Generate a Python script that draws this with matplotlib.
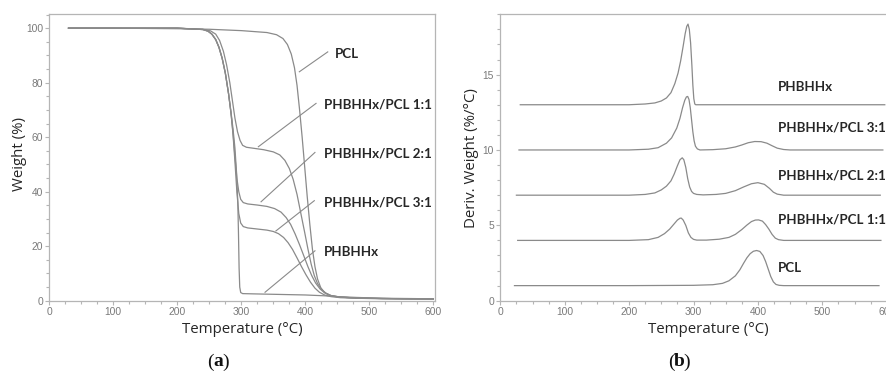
import matplotlib
matplotlib.use("Agg")
import matplotlib.pyplot as plt
from matplotlib.ticker import MultipleLocator

# ---------------- data (a) TGA weight (%) ----------------
tga_pcl_T = [30, 100, 200, 250, 300, 340, 355, 365, 372, 378, 383, 387, 391, 395, 399, 403, 407, 411, 415, 419, 424, 430, 438, 450, 470, 500, 550, 600]
tga_pcl_W = [100, 100, 99.8, 99.6, 99.1, 98.4, 97.6, 96.2, 94, 90.5, 85.5, 79, 70, 60, 49, 38, 28, 19, 12.5, 8, 4.8, 3, 1.9, 1.4, 1.1, 0.9, 0.7, 0.6]

tga_11_T = [30, 100, 200, 240, 252, 260, 266, 272, 277, 282, 286, 290, 294, 298, 302, 308, 320, 335, 350, 360, 368, 375, 381, 387, 393, 399, 404, 409, 414, 419, 425, 432, 440, 455, 480, 520, 600]
tga_11_W = [100, 100, 100, 99.6, 99, 97.8, 95.5, 91.5, 86.5, 80, 73.5, 67, 62, 58.8, 57, 56.3, 55.9, 55.4, 54.6, 53.5, 51.5, 48.5, 44.5, 39, 32, 25, 19, 13.5, 9.2, 6.3, 4.2, 2.8, 1.9, 1.3, 1.0, 0.8, 0.6]

tga_21_T = [30, 100, 200, 240, 248, 254, 260, 265, 270, 275, 280, 284, 287, 290, 293, 296, 299, 303, 310, 325, 340, 352, 362, 370, 377, 384, 391, 398, 404, 410, 416, 423, 430, 440, 455, 480, 520, 600]
tga_21_W = [100, 100, 100, 99.5, 98.9, 97.8, 95.8, 93, 89, 83.5, 76, 68.5, 61.5, 53, 45, 40, 37.2, 36, 35.5, 35.1, 34.6, 33.8, 32.5, 30.5, 28, 24.5, 20.5, 16.2, 12.5, 9.2, 6.5, 4.3, 2.9, 1.9, 1.3, 1.0, 0.8, 0.6]

tga_31_T = [30, 100, 200, 240, 248, 254, 260, 265, 270, 275, 280, 284, 287, 290, 293, 296, 299, 303, 310, 325, 340, 350, 358, 366, 373, 380, 387, 394, 401, 408, 415, 422, 430, 440, 455, 480, 520, 600]
tga_31_W = [100, 100, 100, 99.5, 98.9, 97.8, 95.8, 93, 89, 83.5, 76, 68.5, 61, 51, 40, 32, 28.5, 27.2, 26.7, 26.3, 25.9, 25.4, 24.6, 23.2, 21.3, 18.8, 15.7, 12.5, 9.5, 6.8, 4.6, 3.1, 2.1, 1.5, 1.1, 0.9, 0.7, 0.6]

tga_phb_T = [30, 100, 200, 240, 248, 254, 260, 265, 270, 275, 280, 284, 287, 290, 292.5, 294.5, 295.5, 296.5, 297.5, 299, 302, 320, 360, 400, 430, 450, 480, 520, 600]
tga_phb_W = [100, 100, 100, 99.5, 98.9, 97.8, 95.8, 93, 89, 83.5, 76, 69, 63, 56, 47, 36, 25, 12, 5, 3, 2.6, 2.5, 2.3, 2.1, 1.8, 1.5, 1.2, 0.9, 0.7]

tga_labels = ["PCL", "PHBHHx/PCL 1:1", "PHBHHx/PCL 2:1", "PHBHHx/PCL 3:1", "PHBHHx"]

# ---------------- data (b) DTG (%/°C), offset curves ----------------
dtg_phb_T = [31, 100, 200, 225, 240, 250, 258, 265, 271, 276, 280, 284, 287, 289.5, 291.5, 293.5, 295.5, 297.5, 299, 300.5, 302, 303.5, 350, 450, 597]
dtg_phb_V = [13.0, 13.0, 13.0, 13.05, 13.12, 13.25, 13.45, 13.8, 14.4, 15.1, 15.9, 16.9, 17.7, 18.2, 18.35, 18.0, 17.1, 15.6, 14.3, 13.4, 13.05, 13.0, 13.0, 13.0, 13.0]

dtg_31_T = [29, 100, 200, 230, 245, 258, 266, 274, 279, 283, 286.5, 289, 291, 293, 295, 297, 299, 301, 303, 306, 310, 330, 350, 365, 375, 385, 395, 405, 414, 422, 430, 440, 450, 500, 594]
dtg_31_V = [10, 10, 10, 10.05, 10.15, 10.45, 10.8, 11.45, 12.1, 12.8, 13.3, 13.52, 13.55, 13.35, 12.8, 12.0, 11.2, 10.6, 10.25, 10.07, 10.0, 10.02, 10.08, 10.2, 10.33, 10.48, 10.56, 10.55, 10.45, 10.28, 10.12, 10.03, 10.0, 10.0, 10.0]

dtg_21_T = [25, 100, 200, 225, 240, 250, 258, 265, 270, 275, 279, 282.5, 285, 288, 291, 294, 297, 300, 305, 315, 335, 350, 365, 378, 390, 400, 410, 418, 424, 430, 440, 460, 590]
dtg_21_V = [7, 7, 7, 7.05, 7.15, 7.35, 7.6, 7.95, 8.4, 8.95, 9.35, 9.48, 9.35, 8.85, 8.1, 7.55, 7.25, 7.12, 7.05, 7.02, 7.05, 7.12, 7.3, 7.55, 7.76, 7.83, 7.72, 7.45, 7.2, 7.07, 7.0, 7.0, 7.0]

dtg_11_T = [27, 100, 200, 230, 245, 255, 263, 270, 275, 279, 281, 284, 288, 292, 296, 300, 305, 320, 340, 355, 365, 375, 383, 390, 396, 401, 407, 412, 417, 422, 427, 432, 440, 460, 591]
dtg_11_V = [4, 4, 4, 4.05, 4.2, 4.45, 4.75, 5.1, 5.35, 5.47, 5.48, 5.35, 5.0, 4.5, 4.2, 4.07, 4.02, 4.02, 4.08, 4.2, 4.4, 4.72, 5.02, 5.25, 5.35, 5.36, 5.28, 5.05, 4.75, 4.4, 4.15, 4.05, 4.0, 4.0, 4.0]

dtg_pcl_T = [22, 100, 200, 300, 330, 345, 355, 365, 372, 378, 383, 388, 393, 398, 403, 408, 412, 416, 420, 424, 428, 433, 440, 460, 588]
dtg_pcl_V = [1, 1, 1.0, 1.02, 1.06, 1.15, 1.32, 1.65, 2.05, 2.5, 2.85, 3.12, 3.28, 3.33, 3.27, 3.0, 2.6, 2.1, 1.6, 1.25, 1.08, 1.02, 1.0, 1.0, 1.0]

dtg_labels = ["PHBHHx", "PHBHHx/PCL 3:1", "PHBHHx/PCL 2:1", "PHBHHx/PCL 1:1", "PCL"]

# ---------------- styling ----------------
LINE = "#8a8a8a"
SPINE = "#b5b5b5"
TICKC = "#7a7a7a"
TXT = "#262626"
LABEL_FONT = ["Lato", "DejaVu Sans"]
AX_FONT = ["Open Sans", "DejaVu Sans"]
TICK_FONT = ["Liberation Sans", "DejaVu Sans"]
LAB_SIZE = 9.6

fig = plt.figure(figsize=(8.86, 3.83), dpi=100)
W, H = 886, 383

def px_axes(l, r, t, b):
    return fig.add_axes([l / W, 1 - b / H, (r - l) / W, (b - t) / H])

def style(ax):
    for s in ax.spines.values():
        s.set_color(SPINE)
        s.set_linewidth(0.9)
    ax.tick_params(which="both", direction="out", colors=SPINE, labelcolor=TICKC,
                   labelsize=7.4, width=0.8)
    ax.tick_params(which="major", length=3, pad=1.5)
    ax.tick_params(which="minor", length=2)
    for lab in ax.get_xticklabels() + ax.get_yticklabels():
        lab.set_family(TICK_FONT)

def axis_labels(ax, xlab, ylab, xc, yx, yc):
    ax.set_xlabel(xlab, family=AX_FONT, fontsize=10.8, color=TXT)
    ax.xaxis.label.set_va("center")
    ax.xaxis.set_label_coords(xc, -0.102)
    ax.set_ylabel(ylab, family=AX_FONT, fontsize=10.8, color=TXT)
    ax.yaxis.label.set_va("center")
    ax.yaxis.set_label_coords(yx, yc)

# ---------------- panel (a) ----------------
axa = px_axes(49.3, 435.3, 14, 300.7)
curves_a = [(tga_pcl_T, tga_pcl_W), (tga_11_T, tga_11_W), (tga_21_T, tga_21_W),
            (tga_31_T, tga_31_W), (tga_phb_T, tga_phb_W)]
for T, Wt in curves_a:
    axa.plot(T, Wt, color=LINE, lw=0.9)
axa.set_xlim(0, 603)
axa.set_ylim(0, 105.2)
axa.xaxis.set_major_locator(MultipleLocator(100))
axa.xaxis.set_minor_locator(MultipleLocator(25))
axa.yaxis.set_major_locator(MultipleLocator(20))
axa.yaxis.set_minor_locator(MultipleLocator(5))
style(axa)
axis_labels(axa, "Temperature (°C)", "Weight (%)", 0.501, -0.076, 0.512)

a_text = [(446, 90.5), (429, 72), (429, 54), (429, 35.9), (429, 18)]
a_lead = [((435, 91.3), (390.6, 84)), ((416.7, 72.4), (326.6, 56.5)),
          ((415, 54.4), (330.8, 36.3)), ((414, 36.7), (354, 25.6)),
          ((415, 18.3), (337, 3.1))]
for lab, (tx, ty), (p0, p1) in zip(tga_labels, a_text, a_lead):
    axa.text(tx, ty, lab, family=LABEL_FONT, fontweight="bold", fontsize=LAB_SIZE,
             color=TXT, ha="left", va="center", clip_on=False)
    axa.plot([p0[0], p1[0]], [p0[1], p1[1]], color=LINE, lw=0.8, clip_on=False)

# ---------------- panel (b) ----------------
axb = px_axes(500.3, 500.3 + 386.4, 14, 300.7)
curves_b = [(dtg_phb_T, dtg_phb_V), (dtg_31_T, dtg_31_V), (dtg_21_T, dtg_21_V),
            (dtg_11_T, dtg_11_V), (dtg_pcl_T, dtg_pcl_V)]
for T, V in curves_b:
    axb.plot(T, V, color=LINE, lw=0.9)
axb.set_xlim(0, 600)
axb.set_ylim(0, 19.02)
axb.xaxis.set_major_locator(MultipleLocator(100))
axb.xaxis.set_minor_locator(MultipleLocator(25))
axb.yaxis.set_major_locator(MultipleLocator(5))
axb.yaxis.set_minor_locator(MultipleLocator(1))
style(axb)
axis_labels(axb, "Temperature (°C)", "Deriv. Weight (%/°C)", 0.539, -0.075, 0.498)

b_text = [(431, 14.16), (431, 11.48), (431, 8.3), (431, 5.36), (431, 2.15)]
for lab, (tx, ty) in zip(dtg_labels, b_text):
    axb.text(tx, ty, lab, family=LABEL_FONT, fontweight="bold", fontsize=LAB_SIZE,
             color=TXT, ha="left", va="center", clip_on=False)

# ---------------- captions ----------------
for cx, letter in [(218, "a"), (679, "b")]:
    y = 1 - 362 / H
    fig.text((cx - 4.5) / W, y, "(", family=["Liberation Serif"], fontsize=14,
             ha="right", va="center", color="#111111")
    fig.text(cx / W, y, letter, family=["Liberation Serif"], fontsize=14,
             fontweight="bold", ha="center", va="center", color="#111111")
    fig.text((cx + 4.5) / W, y, ")", family=["Liberation Serif"], fontsize=14,
             ha="left", va="center", color="#111111")

fig.savefig("out.png", dpi=100)
